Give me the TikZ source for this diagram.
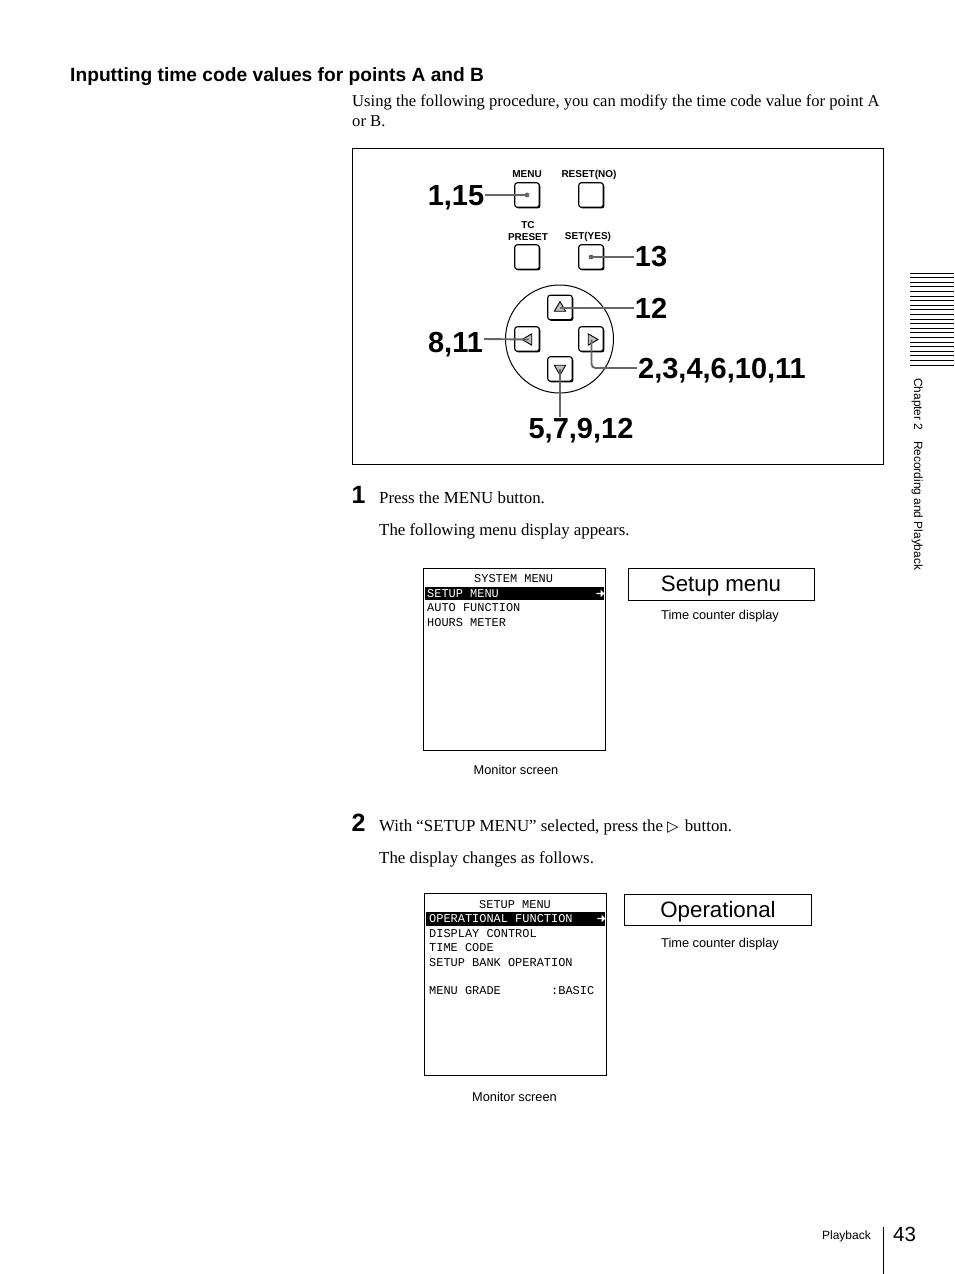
\documentclass[tikz,border=0pt]{standalone}
\usepackage{fontspec}
\usetikzlibrary{shadows,shapes.geometric,shapes.arrows}
\setmainfont{Liberation Serif}
\setsansfont{Liberation Sans}
\newfontfamily\screenfont{Liberation Mono}
\newfontfamily\symbolfont{DejaVu Sans}
\tikzset{
	heading/.style={anchor=base west,inner sep=0pt,font=\sffamily\bfseries\fontsize{19.2}{20}\selectfont},
	bodytext/.style={anchor=base west,inner sep=0pt,font=\fontsize{16.85}{20}\selectfont},
	introtext/.style={anchor=base west,inner sep=0pt,font=\fontsize{16.6}{20}\selectfont},
	steplabel/.style={anchor=base west,inner sep=0pt,font=\sffamily\bfseries\fontsize{25}{25}\selectfont},
	callnum/.style={inner sep=1pt,font=\sffamily\bfseries\fontsize{29}{29}\selectfont},
	keylabel/.style={inner sep=0pt,align=center,font=\sffamily\bfseries\fontsize{10}{11.5}\selectfont},
	caption/.style={inner sep=0pt,font=\sffamily\fontsize{12.8}{15}\selectfont},
	screentext/.style={anchor=base west,inner sep=0pt,font=\screenfont\fontsize{11.95}{12}\selectfont},
	button/.style={draw,fill=white,rounded corners=2.5pt,line width=1.1pt,minimum size=24.5pt,inner sep=0pt,
		general shadow={shadow xshift=1.2pt,shadow yshift=-1.2pt,fill=black}},
	callout/.style={draw=black!60,line width=1.9pt},
	arrowkey/.style={draw,regular polygon,regular polygon sides=3,inner sep=0pt,minimum size=13pt,fill=black!25,line width=0.9pt},
	counterbox/.style={draw,line width=0.7pt,inner sep=0pt,text height=14pt,text depth=0pt,font=\sffamily\fontsize{22.3}{24}\selectfont},
	screenbox/.style={draw,line width=0.7pt},
	barmark/.style={single arrow,fill=white,inner sep=0pt,minimum height=8pt,minimum width=7.5pt,single arrow head extend=1pt}
}
\begin{document}
\begin{tikzpicture}[x=1pt,y=-1pt]
	\useasboundingbox (0,0) rectangle (954,1274);
	\node[heading] (title) at (70,81) {Inputting time code values for points A and B};
	\node[introtext] (introa) at (352,106) {Using the following procedure, you can modify the time code value for point A};
	\node[introtext] (introb) at (352,126) {or B.};
	\draw[line width=0.7pt] (352,148) rectangle (883,464);

	% control panel
	\draw[line width=1pt] (559.5,339) circle (54);
	\node[button] (menu) at (527,195) {};
	\node[button] (reset) at (591,195) {};
	\node[button] (tcpreset) at (527,257) {};
	\node[button] (setyes) at (591,257) {};
	\node[button] (upkey) at (560,307.5) {};
	\node[button] (leftkey) at (527,339) {};
	\node[button] (rightkey) at (591,339) {};
	\node[button] (downkey) at (560,369) {};
	\node[arrowkey] (uptri) at (560,308) {};
	\node[arrowkey,shape border rotate=90] (lefttri) at (528.5,339.5) {};
	\node[arrowkey,shape border rotate=-90] (righttri) at (591.5,339.5) {};
	\node[arrowkey,shape border rotate=180] (downtri) at (560,368.5) {};

	\node[keylabel] (menulab) at (527,174.5) {MENU};
	\node[keylabel] (resetlab) at (589,174.5) {RESET(NO)};
	\node[keylabel] (tclab) at (528,231) {TC\\PRESET};
	\node[keylabel] (setlab) at (588,236.5) {SET(YES)};

	\node[callnum] (nummenu) at (456,198) {1,15};
	\node[callnum] (numset) at (651,257) {13};
	\node[callnum] (numup) at (651,308) {12};
	\node[callnum] (numleft) at (455.5,345) {8,11};
	\node[callnum] (numright) at (722,371) {2,3,4,6,10,11};
	\node[callnum] (numdown) at (581,431) {5,7,9,12};

	\draw[callout] (nummenu.east |- menu) -- (menu.center);
	\draw[callout] (numset.west |- setyes) -- (setyes.center);
	\draw[callout] (numup.west |- uptri) -- (uptri.center);
	\draw[callout] (numleft.east |- leftkey) -- (lefttri.center);
	\draw[callout,rounded corners=4pt] (numright.west |- 0,368) -| (righttri.center);
	\draw[callout] (numdown.north -| downtri) -- (downtri.center);
	\fill[black!60] (menu.center) circle (2.4);
	\fill[black!60] (setyes.center) circle (2.4);

	% step 1
	\node[steplabel] (stepa) at (351.5,503) {1};
	\node[bodytext] (stepatext) at (379,503) {Press the MENU button.};
	\node[bodytext] (stepanext) at (379,535) {The following menu display appears.};

	\node[screenbox,minimum size=182pt,inner sep=0pt] (screena) at (514,659.5) {};
	\fill (425,587) rectangle (604,600);
	\node[screentext] (sa0) at (474,582) {SYSTEM MENU};
	\node[screentext,text=white] (sa1) at (427,597) {SETUP MENU};
	\node[screentext] (sa2) at (427,611) {AUTO FUNCTION};
	\node[screentext] (sa3) at (427,626) {HOURS METER};
	\node[barmark] (saarrow) at (600,593.5) {};
	\node[counterbox,minimum width=186pt,minimum height=32pt] (setupbox) at (721,584) {Setup menu};
	\node[caption] (timea) at (720,616.5) {Time counter display};
	\node[caption] (monitora) at (516,770) {Monitor screen};

	% step 2
	\node[steplabel] (stepb) at (351.5,831) {2};
	\node[bodytext] (stepbtext) at (379,831) {With “SETUP MENU” selected, press the\hspace{4pt}{\symbolfont\fontsize{15}{15}\selectfont ▷}\hspace{2pt} button.};
	\node[bodytext] (stepbnext) at (379,863) {The display changes as follows.};

	\node[screenbox,minimum size=182pt,inner sep=0pt] (screenb) at (515,984.5) {};
	\fill (426,912) rectangle (605,926);
	\node[screentext] (sb0) at (479,908) {SETUP MENU};
	\node[screentext,text=white] (sb1) at (429,922) {OPERATIONAL FUNCTION};
	\node[screentext] (sb2) at (429,937) {DISPLAY CONTROL};
	\node[screentext] (sb3) at (429,951) {TIME CODE};
	\node[screentext] (sb4) at (429,966) {SETUP BANK OPERATION};
	\node[screentext] (sb5) at (429,994) {MENU GRADE};
	\node[screentext] (sb6) at (551,994) {:BASIC};
	\node[barmark] (sbarrow) at (601,918.5) {};
	\node[counterbox,minimum width=187pt,minimum height=31pt] (operbox) at (718,910) {Operational};
	\node[caption] (timeb) at (720,944.5) {Time counter display};
	\node[caption] (monitorb) at (514.5,1097) {Monitor screen};

	% page edge
	\foreach \y in {0,...,20}
		\draw[line width=0.9pt] (910,273+4.6*\y) -- (954,273+4.6*\y);
	\node[inner sep=0pt,rotate=-90,anchor=north west,font=\sffamily\fontsize{11.9}{14}\selectfont] (chapter) at (923,378) {Chapter 2\hspace{0.9em}Recording and Playback};
	\node[caption,anchor=base east,font=\sffamily\fontsize{12}{14}\selectfont] (footer) at (871,1239) {Playback};
	\draw[line width=0.7pt] (883,1227) -- (883,1274);
	\node[anchor=base west,inner sep=0pt,font=\sffamily\fontsize{20.5}{20}\selectfont] (pageno) at (893,1241) {43};
\end{tikzpicture}
\end{document}
